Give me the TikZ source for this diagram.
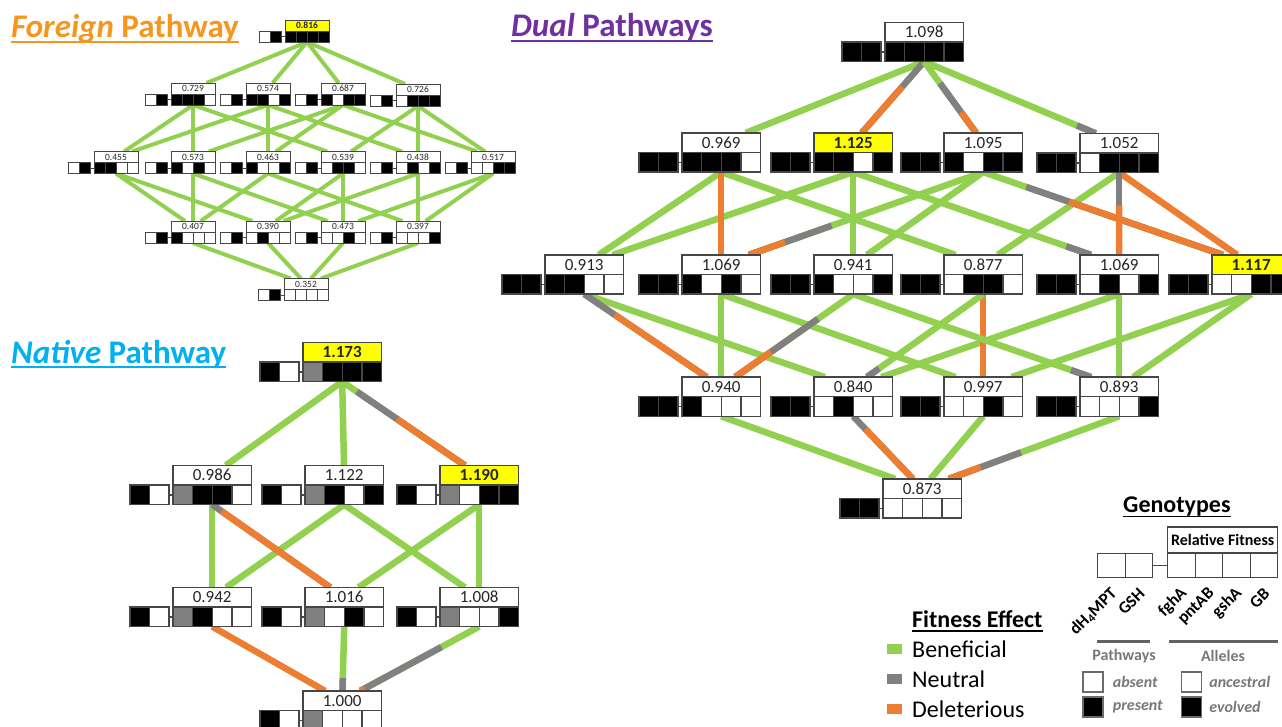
\documentclass[tikz,border=0pt]{standalone}
\usepackage{fontspec}
\setmainfont{Carlito}
\usetikzlibrary{calc}
\usetikzlibrary{positioning}
\usetikzlibrary{backgrounds}

\definecolor{ben}{RGB}{146,208,80}
\definecolor{neu}{RGB}{128,128,128}
\definecolor{del}{RGB}{237,125,49}
\definecolor{forc}{RGB}{247,150,30}
\definecolor{natc}{RGB}{0,176,240}
\definecolor{duac}{RGB}{112,48,160}
\definecolor{rim}{RGB}{70,70,70}
\definecolor{legc}{RGB}{120,120,120}
\definecolor{hi}{RGB}{255,255,0}
\colorlet{W}{white}
\colorlet{B}{black}
\colorlet{G}{neu}

\def\cs{19.6}\def\gp{4}\def\rw{1.4}\def\ff{\fontsize{17}{17}\selectfont}

\tikzset{
  cell/.style={draw=rim, line width=\rw pt, minimum width={\cs*1pt},
    minimum height={\cs*1pt}, inner sep=0pt, outer sep=0pt},
  fitbox/.style={cell, minimum width={4*\cs*1pt}, font=\ff, text=black!85},
  link/.style={line width=6.5pt},
  title/.style={font=\fontsize{33}{33}\selectfont\bfseries, inner sep=0pt, anchor=base west},
  legtext/.style={font=\fontsize{24}{24}\selectfont, inner sep=0pt, anchor=base west},
  legbox/.style={draw=rim!80, line width=1.2pt, minimum size=20pt, inner sep=0pt},
  gene/.style={font=\fontsize{17}{17}\selectfont\bfseries, rotate=45, anchor=east, inner sep=0pt},
  smalltext/.style={font=\fontsize{16}{16}\selectfont\bfseries, text=legc, inner sep=0pt},
}

\newcommand{\geno}[6]{%
  \node[fitbox, fill=#4, anchor=south west] (#1) at #2 {#3};
  \foreach \fc [count=\i] in {#6}
    \node[cell, fill=\fc, anchor=north west] (#1-a\i) at ($(#1.south west)+({(\i-1)*\cs},0)$) {};
  \foreach \fc [count=\i] in {#5}
    \node[cell, fill=\fc, anchor=north west] (#1-p\i) at ($(#1.south west)+({(\i-3)*\cs-\gp},0)$) {};
  \draw[draw=rim, line width=\rw pt] (#1-p2.east) -- (#1-a1.west);
  \coordinate (#1-b) at ($(#1.south)+(0,\cs)$);
}

\newcommand{\edge}[3]{%
  \foreach \ec/\es in {#3}
    \draw[link, \ec] ($(#1-b)!{0.89*\es}!(#2)$) -- (#2);
}

\begin{document}
\begin{tikzpicture}[x=1pt, y=-1pt]
\useasboundingbox (0,0) rectangle (1282,726);

\node[title, text=forc] (ftitle) at (11,37.5) {\textit{Foreign} Pathway};
\draw[forc, line width=2pt] ($(ftitle.base west)+(0,4)$) -- ($(ftitle.base east)+(0,4)$);
\node[title, text=natc] (ntitle) at (11,363) {\textit{Native} Pathway};
\draw[natc, line width=2pt] ($(ntitle.base west)+(0,4)$) -- ($(ntitle.base east)+(0,4)$);
\node[title, text=duac] (dtitle) at (511,36.5) {\textit{Dual} Pathways};
\draw[duac, line width=2pt] ($(dtitle.base west)+(0,4)$) -- ($(dtitle.base east)+(0,4)$);

\begin{scope}[link/.style={line width=4pt}]
\def\cs{11}\def\gp{3.5}\def\rw{0.9}\def\ff{\fontsize{9.5}{9.5}\selectfont}
\geno{F1111}{(285,31)}{\textbf{0.816}}{hi}{W,B}{B,B,B,B}
\geno{F1110}{(171,94)}{0.729}{W}{W,B}{B,B,B,W}
\geno{F1101}{(246,94)}{0.574}{W}{W,B}{B,B,W,B}
\geno{F1011}{(321,94)}{0.687}{W}{W,B}{B,W,B,B}
\geno{F0111}{(396,95)}{0.726}{W}{W,B}{W,B,B,B}
\geno{F1100}{(94,162.5)}{0.455}{W}{W,B}{B,B,W,W}
\geno{F1010}{(171,162.5)}{0.573}{W}{W,B}{B,W,B,W}
\geno{F1001}{(246,162.5)}{0.463}{W}{W,B}{B,W,W,B}
\geno{F0110}{(321,162.5)}{0.539}{W}{W,B}{W,B,B,W}
\geno{F0101}{(396,162.5)}{0.438}{W}{W,B}{W,B,W,B}
\geno{F0011}{(471,162.5)}{0.517}{W}{W,B}{W,W,B,B}
\geno{F1000}{(171,232)}{0.407}{W}{W,B}{B,W,W,W}
\geno{F0100}{(246,232)}{0.390}{W}{W,B}{W,B,W,W}
\geno{F0010}{(321,232)}{0.473}{W}{W,B}{W,W,B,W}
\geno{F0001}{(396,232)}{0.397}{W}{W,B}{W,W,W,B}
\geno{F0000}{(284,289.5)}{0.352}{W}{W,B}{W,W,W,W}
\begin{pgfonlayer}{background}
\foreach \a/\b in {F1111/F1110, F1111/F1101, F1111/F1011, F1111/F0111,
    F1110/F1100, F1110/F1010, F1110/F0110, F1101/F1100, F1101/F1001, F1101/F0101,
    F1011/F1010, F1011/F1001, F1011/F0011, F0111/F0110, F0111/F0101, F0111/F0011,
    F1100/F1000, F1100/F0100, F1010/F1000, F1010/F0010, F1001/F1000, F1001/F0001,
    F0110/F0100, F0110/F0010, F0101/F0100, F0101/F0001, F0011/F0010, F0011/F0001,
    F1000/F0000, F0100/F0000, F0010/F0000, F0001/F0000}
  \draw[link, ben] (\a-b) -- (\b);
\end{pgfonlayer}
\end{scope}

\geno{N111}{(303,362)}{\textbf{1.173}}{hi}{B,W}{G,B,B,B}
\geno{N110}{(173,485)}{0.986}{W}{B,W}{G,B,B,W}
\geno{N101}{(305,485)}{1.122}{W}{B,W}{G,B,W,B}
\geno{N011}{(440,485)}{\textbf{1.190}}{hi}{B,W}{G,W,B,B}
\geno{N100}{(173,607)}{0.942}{W}{B,W}{G,B,W,W}
\geno{N010}{(305,607)}{1.016}{W}{B,W}{G,W,B,W}
\geno{N001}{(440,607)}{1.008}{W}{B,W}{G,W,W,B}
\geno{N000}{(303,710.5)}{1.000}{W}{B,W}{G,W,W,W}
\begin{pgfonlayer}{background}
\foreach \a/\b in {N111/N110, N111/N101, N110/N100, N101/N100, N101/N001, N011/N010, N011/N001}
  \draw[link, ben] (\a-b) -- (\b);
\edge{N111}{N011}{ben/0, neu/.12, del/.45}
\edge{N110}{N010}{neu/0, del/.08}
\draw[link, del] (N100-b) -- (N000);
\edge{N010}{N000}{ben/0, neu/.78}
\edge{N001}{N000}{ben/0, neu/.31, del/.94}
\end{pgfonlayer}

\geno{D1111}{(885,42)}{1.098}{W}{B,B}{B,B,B,B}
\geno{D1110}{(682,152.5)}{0.969}{W}{B,B}{B,B,B,W}
\geno{D1101}{(814,152.5)}{\textbf{1.125}}{hi}{B,B}{B,B,W,B}
\geno{D1011}{(944,152.5)}{1.095}{W}{B,B}{B,W,B,B}
\geno{D0111}{(1080,153)}{1.052}{W}{B,B}{W,B,B,B}
\geno{D1100}{(545,274.5)}{0.913}{W}{B,B}{B,B,W,W}
\geno{D1010}{(682,274.5)}{1.069}{W}{B,B}{B,W,B,W}
\geno{D1001}{(814,274.5)}{0.941}{W}{B,B}{B,W,W,B}
\geno{D0110}{(944,274.5)}{0.877}{W}{B,B}{W,B,B,W}
\geno{D0101}{(1080,274.5)}{1.069}{W}{B,B}{W,B,W,B}
\geno{D0011}{(1212,274.5)}{\textbf{1.117}}{hi}{B,B}{W,W,B,B}
\geno{D1000}{(682,396.7)}{0.940}{W}{B,B}{B,W,W,W}
\geno{D0100}{(814,396.7)}{0.840}{W}{B,B}{W,B,W,W}
\geno{D0010}{(944,396.7)}{0.997}{W}{B,B}{W,W,B,W}
\geno{D0001}{(1080,396.7)}{0.893}{W}{B,B}{W,W,W,B}
\geno{D0000}{(883,498.5)}{0.873}{W}{B,B}{W,W,W,W}
\begin{pgfonlayer}{background}
\foreach \a/\b in {D1111/D1110, D1110/D1100, D1110/D0110, D1101/D1100, D1101/D1001,
    D1011/D1001, D0111/D0110, D1100/D0100, D1010/D1000, D1010/D0010, D0101/D0100,
    D0101/D0001, D0011/D0010, D0011/D0001, D1000/D0000, D0010/D0000}
  \draw[link, ben] (\a-b) -- (\b);
\foreach \a/\b in {D1110/D1010, D0111/D0011, D0110/D0010}
  \draw[link, del] (\a-b) -- (\b);
\edge{D1111}{D1101}{neu/0, del/.35}
\edge{D1111}{D1011}{ben/0, neu/.3, del/.7}
\edge{D1111}{D0111}{ben/0, neu/.88}
\edge{D1101}{D0101}{ben/0, neu/.9}
\edge{D1011}{D1010}{ben/0, neu/.65, del/.85}
\edge{D1011}{D0011}{ben/0, neu/.18, del/.36}
\edge{D0111}{D0101}{neu/0, del/.4}
\edge{D1100}{D1000}{neu/0, del/.25}
\edge{D1001}{D1000}{ben/0, neu/.3, del/.7}
\edge{D1001}{D0001}{ben/0, neu/.92}
\edge{D0110}{D0100}{ben/0, neu/.9}
\edge{D0100}{D0000}{neu/0, del/.2}
\edge{D0001}{D0000}{ben/0, neu/.56, del/.79}
\end{pgfonlayer}

\node[legtext, font=\fontsize{24}{24}\selectfont\bfseries] (fe) at (912,627) {Fitness Effect};
\draw[line width=1.5pt] ($(fe.base west)+(0,4)$) -- ($(fe.base east)+(0,4)$);
\node[legtext] (lben) at (912,657) {Beneficial};
\node[legtext] (lneu) at (912,687) {Neutral};
\node[legtext] (ldel) at (912,717) {Deleterious};
\node[fill=ben, minimum width=15pt, minimum height=10pt, inner sep=0pt, left=10pt of lben.west] (sben) {};
\node[fill=neu, minimum width=15pt, minimum height=10pt, inner sep=0pt, left=10pt of lneu.west] (sneu) {};
\node[fill=del, minimum width=15pt, minimum height=10pt, inner sep=0pt, left=10pt of ldel.west] (sdel) {};

\node[legtext, font=\fontsize{24}{24}\selectfont\bfseries] (gt) at (1123,512.5) {Genotypes};
\draw[line width=1.5pt] ($(gt.base west)+(0,4)$) -- ($(gt.base east)+(0,4)$);
\node[draw=rim, line width=1.4pt, minimum width=110pt, minimum height=25.5pt, inner sep=0pt,
  anchor=south west, font=\fontsize{16}{16}\selectfont\bfseries] (rf) at (1167,553) {Relative Fitness};
\foreach \i in {1,...,4}
  \node[draw=rim, line width=1.4pt, minimum width=27.5pt, minimum height=23.5pt, inner sep=0pt,
    anchor=north west] (la\i) at ($(rf.south west)+({(\i-1)*27.5},0)$) {};
\foreach \i in {1,2}
  \node[draw=rim, line width=1.4pt, minimum width=27.5pt, minimum height=23.5pt, inner sep=0pt,
    anchor=north west] (lp\i) at ($(rf.south west)+({(\i-3)*27.5-15},0)$) {};
\draw[draw=rim, line width=1.4pt] (lp2.east) -- (la1.west);
\node[gene] at ($(lp1.south)+(3,13)$) {dH\textsubscript{4}MPT};
\node[gene] at ($(lp2.south)+(3,13)$) {GSH};
\node[gene] at ($(la1.south)+(3,13)$) {fghA};
\node[gene] at ($(la2.south)+(3,13)$) {pntAB};
\node[gene] at ($(la3.south)+(3,13)$) {gshA};
\node[gene] at ($(la4.south)+(3,13)$) {GB};
\draw[rim!85, line width=3pt] ($(lp1.south west)+(0,64)$) -- ($(lp2.south east)+(-3,64)$);
\draw[rim!85, line width=3pt] ($(la1.south west)+(2,64)$) -- ($(la4.south east)+(0,64)$);
\node[smalltext] (pw) at (1124,656) {Pathways};
\node[smalltext] (al) at (1223,656) {Alleles};
\node[legbox, fill=white] (kab) at (1093,682) {};
\node[legbox, fill=black] (kpr) at (1093,707) {};
\node[legbox, fill=white] (kan) at (1191.5,682) {};
\node[legbox, fill=black] (kev) at (1191.5,707) {};
\node[smalltext, anchor=west, font=\fontsize{16}{16}\selectfont\bfseries\itshape] at ($(kab.east)+(9,0)$) {absent};
\node[smalltext, anchor=west, font=\fontsize{16}{16}\selectfont\bfseries\itshape] at ($(kpr.east)+(9,0)$) {present};
\node[smalltext, anchor=west, font=\fontsize{16}{16}\selectfont\bfseries\itshape] at ($(kan.east)+(7,0)$) {ancestral};
\node[smalltext, anchor=west, font=\fontsize{16}{16}\selectfont\bfseries\itshape] at ($(kev.east)+(7,0)$) {evolved};
\end{tikzpicture}
\end{document}
